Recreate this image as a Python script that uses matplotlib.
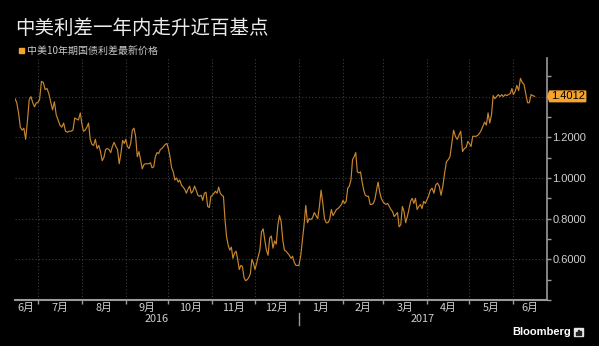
import matplotlib
matplotlib.use("Agg")
import matplotlib.pyplot as plt
import matplotlib.dates as mdates
import matplotlib.transforms as mtransforms
from matplotlib.patches import Rectangle, Polygon
from matplotlib.ticker import FixedLocator, MultipleLocator
import numpy as np
import pandas as pd

# ---------------- data ----------------
title = "中美利差一年内走升近百基点"
subtitle = "中美10年期国债利差最新价格"
month_labels = ["6月", "7月", "8月", "9月", "10月", "11月", "12月",
                "1月", "2月", "3月", "4月", "5月", "6月"]
year_labels = ["2016", "2017"]
y_major = [0.6, 0.8, 1.0, 1.2, 1.4]
brand = "Bloomberg"

vals_jun16 = [1.39, 1.37, 1.32, 1.25, 1.235, 1.245, 1.19, 1.28, 1.385, 1.40, 1.37, 1.35, 1.37]
vals_jul16 = [1.37, 1.385, 1.475, 1.47, 1.435, 1.44, 1.415, 1.375, 1.335, 1.375, 1.31, 1.285,
              1.26, 1.25, 1.27, 1.23, 1.225, 1.23, 1.23, 1.235, 1.295, 1.29, 1.285, 1.32]
vals_aug16 = [1.27, 1.23, 1.235, 1.25, 1.27, 1.19, 1.165, 1.16, 1.19, 1.145, 1.16, 1.13, 1.085,
              1.10, 1.14, 1.145, 1.14, 1.125, 1.155, 1.175, 1.155, 1.14, 1.07, 1.12, 1.185, 1.17]
vals_sep16 = [1.19, 1.155, 1.145, 1.17, 1.235, 1.245, 1.205, 1.105, 1.13, 1.09, 1.045, 1.065,
              1.07, 1.07, 1.07, 1.075, 1.05, 1.055, 1.105, 1.125, 1.12, 1.14, 1.145, 1.155,
              1.165, 1.17]
vals_oct16 = [1.145, 1.105, 1.05, 1.03, 0.99, 1.00, 0.98, 0.99, 0.965, 0.955, 0.945, 0.925,
              0.945, 0.96, 0.925, 0.935, 0.96, 0.94, 0.915, 0.91, 0.915, 0.89, 0.925, 0.93,
              0.86, 0.855, 0.91]
vals_nov16 = [0.915, 0.925, 0.935, 0.925, 0.955, 0.925, 0.915, 0.91, 0.795, 0.71, 0.67, 0.645,
              0.66, 0.605, 0.63, 0.64, 0.60, 0.55, 0.57, 0.565, 0.51, 0.495, 0.50, 0.51, 0.53,
              0.60, 0.58]
vals_dec16 = [0.55, 0.58, 0.615, 0.645, 0.735, 0.75, 0.695, 0.645, 0.62, 0.705, 0.715, 0.655,
              0.69, 0.675, 0.77, 0.815, 0.785, 0.695, 0.645, 0.64, 0.63, 0.62, 0.605, 0.615,
              0.585, 0.57, 0.57]
vals_jan17 = [0.57, 0.615, 0.695, 0.77, 0.865, 0.78, 0.80, 0.795, 0.805, 0.83, 0.815, 0.80,
              0.86, 0.94, 0.875, 0.80, 0.78, 0.78, 0.795, 0.845, 0.815, 0.83, 0.845, 0.85,
              0.86, 0.87]
vals_feb17 = [0.89, 0.875, 0.885, 0.95, 0.96, 0.99, 1.09, 1.105, 1.125, 1.03, 1.025, 1.03,
              0.98, 0.94, 0.915, 0.91, 0.91, 0.87, 0.87, 0.875, 0.895, 0.94, 0.98, 0.93, 0.90]
vals_mar17 = [0.885, 0.875, 0.87, 0.875, 0.86, 0.845, 0.835, 0.81, 0.82, 0.83, 0.76, 0.77,
              0.86, 0.835, 0.78, 0.81, 0.845, 0.885, 0.90, 0.875, 0.90, 0.845, 0.86, 0.87,
              0.85, 0.885, 0.875]
vals_apr17 = [0.89, 0.91, 0.94, 0.95, 0.925, 0.965, 0.975, 0.96, 0.915, 0.96, 1.025, 1.08,
              1.09, 1.105, 1.17, 1.235, 1.205, 1.19, 1.21, 1.23, 1.13, 1.145, 1.15, 1.18]
vals_may17 = [1.17, 1.155, 1.205, 1.205, 1.205, 1.21, 1.22, 1.235, 1.255, 1.275, 1.26, 1.32,
              1.27, 1.31, 1.405, 1.39, 1.40, 1.41, 1.40, 1.41, 1.40, 1.41, 1.405, 1.41,
              1.415, 1.44]
vals_jun17 = [1.41, 1.425, 1.455, 1.43, 1.49, 1.47, 1.46, 1.415, 1.37, 1.37, 1.41, 1.405, 1.4012]

segments = [
    ("2016-06-15", "2016-06-30", vals_jun16),
    ("2016-07-01", "2016-07-31", vals_jul16),
    ("2016-08-01", "2016-08-31", vals_aug16),
    ("2016-09-01", "2016-09-30", vals_sep16),
    ("2016-10-01", "2016-10-31", vals_oct16),
    ("2016-11-01", "2016-11-30", vals_nov16),
    ("2016-12-01", "2016-12-31", vals_dec16),
    ("2017-01-01", "2017-01-31", vals_jan17),
    ("2017-02-01", "2017-02-28", vals_feb17),
    ("2017-03-01", "2017-03-31", vals_mar17),
    ("2017-04-01", "2017-04-30", vals_apr17),
    ("2017-05-01", "2017-05-31", vals_may17),
    ("2017-06-01", "2017-06-16", vals_jun17),
]

dates = pd.DatetimeIndex(np.concatenate(
    [pd.date_range(s, e, periods=len(v)).values for s, e, v in segments]))
values = np.concatenate([np.asarray(v, float) for _, _, v in segments])

x_start = pd.Timestamp("2016-06-15")
x_end = pd.Timestamp("2017-06-24 12:00")

# ---------------- style ----------------
CJK = ["Noto Sans CJK SC", "DejaVu Sans"]
LAT = ["Liberation Sans", "DejaVu Sans"]
LINE = "#c8862e"
TAG = "#f5a52e"
GRID = "#3d3d3d"
AXC = "#9a9a9a"
TXT = "#d0d0d0"

W, H = 599, 346
fig = plt.figure(figsize=(W / 100, H / 100), dpi=100, facecolor="black")
ax = fig.add_axes([15 / W, 1 - 300 / H, (546.7 - 15) / W, (300 - 58) / H])
ax.set_facecolor("black")

ax.plot(dates, values, color=LINE, lw=0.85, zorder=3)
ax.set_xlim(x_start, x_end)
ax.set_ylim(0.4, 1.59)

# x axis: month gridlines
ax.xaxis.set_major_locator(mdates.MonthLocator())
ax.xaxis.set_major_formatter(plt.NullFormatter())
ax.tick_params(axis="x", which="major", direction="out", length=3, width=1, color=AXC)
ax.grid(True, axis="x", which="major", color=GRID, ls=(0, (1, 2)), lw=0.8)

# y axis on right
ax.yaxis.tick_right()
ax.yaxis.set_major_locator(FixedLocator(y_major))
ax.set_yticklabels([f"{v:.4f}" for v in y_major[:-1]] + [""])
ax.yaxis.set_minor_locator(MultipleLocator(0.1))
ax.tick_params(axis="y", which="both", direction="out", length=3, width=1, color=AXC,
               labelcolor=TXT, labelsize=8, pad=1)
for lab in ax.get_yticklabels():
    lab.set_family(LAT)
ax.grid(True, axis="y", which="major", color=GRID, ls=(0, (1, 2)), lw=0.8)

for s in ["top", "left"]:
    ax.spines[s].set_visible(False)
ax.spines["right"].set_color(AXC)
ax.spines["right"].set_linewidth(1.2)
ax.spines["bottom"].set_color(AXC)
ax.spines["bottom"].set_linewidth(1.5)

# month labels centred in the visible part of each month
bt = mtransforms.blended_transform_factory(ax.transData, ax.transAxes)
month_starts = list(pd.date_range("2016-06-01", "2017-07-01", freq="MS"))
for i, lab in enumerate(month_labels):
    a = max(month_starts[i], x_start)
    b = min(month_starts[i + 1], x_end)
    mid = a + (b - a) / 2
    ax.text(mdates.date2num(mid), -0.032, lab, transform=bt, ha="center", va="center",
            fontsize=7.8, color=TXT, family=CJK)

# year labels and separator
year_start = pd.Timestamp("2017-01-01")
for lab, (a, b) in zip(year_labels, [(x_start, year_start), (year_start, x_end)]):
    mid = a + (b - a) / 2
    ax.text(mdates.date2num(mid), -0.079, lab, transform=bt, ha="center", va="center",
            fontsize=7.8, color=TXT, family=CJK)
ax.plot([mdates.date2num(year_start)] * 2, [-0.054, -0.103], transform=bt, color=AXC,
        lw=1, clip_on=False)

# title & subtitle
fig.text(15 / W, 1 - 28.5 / H, title, fontsize=14, color="#ececec", va="center",
         ha="left", family=CJK)
fig.patches.append(Rectangle((19 / W, 1 - 53.3 / H), 5 / W, 5 / H, transform=fig.transFigure,
                             color=TAG))
fig.text(27 / W, 1 - 50.8 / H, subtitle, fontsize=7.2, color="#c8c8c8", va="center",
         ha="left", family=CJK)

# last value tag
fig.canvas.draw()
yc = ax.transData.transform((0, values[-1]))[1]
xr = ax.transAxes.transform((1, 0))[0]
hh = 5.3
tag = Polygon([(xr + 1, yc), (xr + 3, yc + hh), (xr + 39, yc + hh), (xr + 39, yc - hh),
               (xr + 3, yc - hh)], closed=True, transform=None, color=TAG, zorder=5)
fig.patches.append(tag)
fig.text((xr + 21) / W, yc / H, f"{values[-1]:.4f}", fontsize=8, color="black",
         ha="center", va="center", family=LAT, zorder=6)

# Bloomberg brand
fig.text(512 / W, 1 - 331.8 / H, brand, fontsize=8, fontweight="bold", color="white",
         ha="left", va="center", family=LAT)
fig.patches.append(Rectangle((574 / W, 1 - 336 / H), 8.5 / W, 8.5 / H,
                             transform=fig.transFigure, color="#e6e6e6"))
for bx, bh in [(576, 3), (578, 5), (580, 4)]:
    fig.patches.append(Rectangle((bx / W, 1 - 334.5 / H), 1.2 / W, bh / H,
                                 transform=fig.transFigure, color="#222222"))

fig.savefig("out.png", dpi=100, facecolor="black")
